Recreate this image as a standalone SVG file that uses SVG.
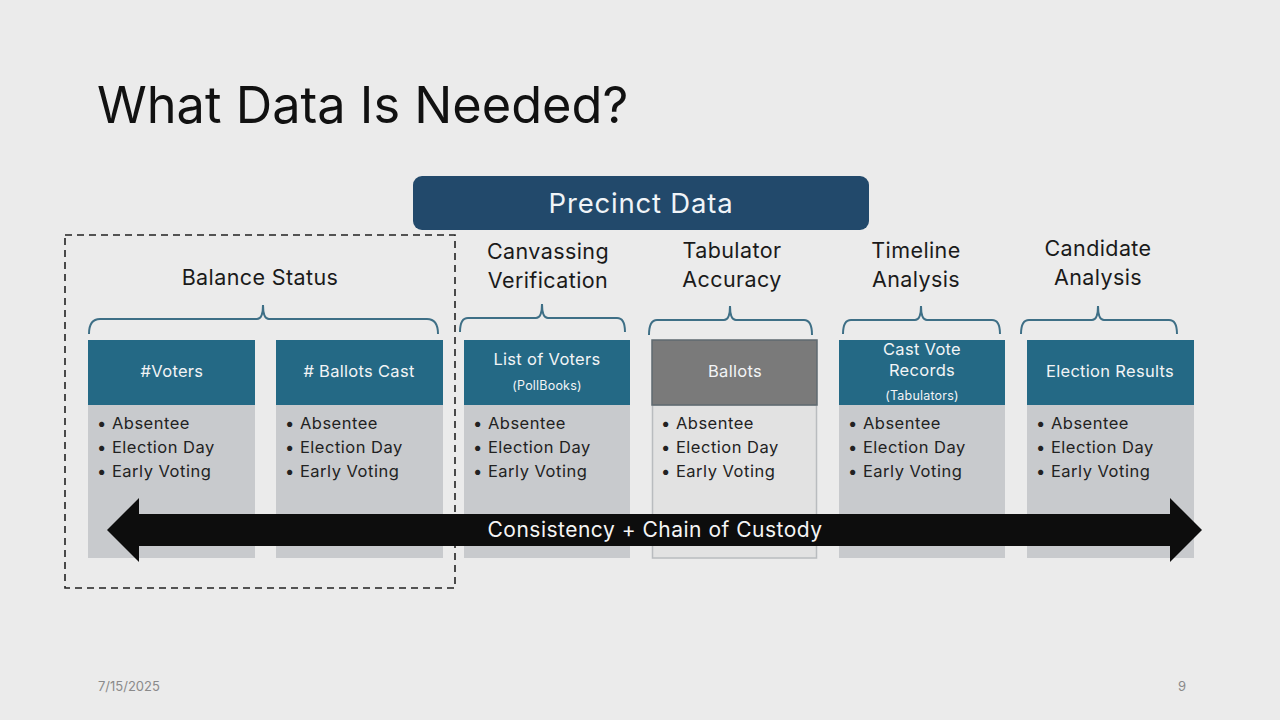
<svg xmlns="http://www.w3.org/2000/svg" width="1280" height="720" viewBox="0 0 1280 720">
<style>
text{font-family:Inter,"Open Sans","Liberation Sans",sans-serif}
.hdr{fill:#246985}
.body{fill:#c8cacd}
.ht{fill:#f2f4f6;font-size:16.5px;letter-spacing:0.3px;text-anchor:middle}
.hs{fill:#f2f4f6;font-size:12.5px;letter-spacing:0.2px;text-anchor:middle}
.bl{fill:#222;font-size:16.5px;letter-spacing:0.5px}
.lab{fill:#1a1a1a;font-size:21.5px;letter-spacing:0.4px;text-anchor:middle}
.brace{fill:none;stroke:#3e6f86;stroke-width:2}
</style>
<rect width="1280" height="720" fill="#ebebeb"/>
<text x="97" y="123" font-size="50.5" fill="#111">What Data Is Needed?</text>
<g id="precinct">
<rect x="413" y="176" width="456" height="54" rx="9" fill="#22496b"/>
<text x="641" y="213" font-size="27.5" fill="#f0f4f8" text-anchor="middle" letter-spacing="0.8">Precinct Data</text>
</g>
<g id="balance-group">
<rect x="65" y="235" width="390" height="353" fill="none" stroke="#222" stroke-width="1.6" stroke-dasharray="7,5"/>
<text class="lab" x="260" y="285">Balance Status</text>
</g>
<g id="labels">
<text class="lab" x="548" y="259">Canvassing</text><text class="lab" x="548" y="288">Verification</text>
<text class="lab" x="732" y="258">Tabulator</text><text class="lab" x="732" y="287">Accuracy</text>
<text class="lab" x="916" y="258">Timeline</text><text class="lab" x="916" y="287">Analysis</text>
<text class="lab" x="1098" y="256">Candidate</text><text class="lab" x="1098" y="285">Analysis</text>
</g>
<g id="braces">
<path class="brace" d="M89,334 Q89,319 100,319 L257,319 Q263,319 263,305 Q263,319 269,319 L427,319 Q438,319 438,334"/>
<path class="brace" d="M460,332 Q460,318 468,318 L536,318 Q542,318 542,304 Q542,318 548,318 L617,318 Q625,318 625,332"/>
<path class="brace" d="M649,335 Q649,320 657,320 L724,320 Q730,320 730,306 Q730,320 736,320 L804,320 Q812,320 812,335"/>
<path class="brace" d="M843,334 Q843,320 851,320 L915,320 Q921,320 921,306 Q921,320 927,320 L992,320 Q1000,320 1000,334"/>
<path class="brace" d="M1021,334 Q1021,320 1029,320 L1092,320 Q1098,320 1098,306 Q1098,320 1104,320 L1169,320 Q1177,320 1177,334"/>
</g>
<g id="n-voters">
<rect class="body" x="88" y="405" width="167" height="153"/>
<rect class="hdr" x="88" y="340" width="167" height="65"/>
<text class="ht" x="172" y="377">#Voters</text>
<text class="bl" x="97" y="429">• Absentee</text><text class="bl" x="97" y="453">• Election Day</text><text class="bl" x="97" y="477">• Early Voting</text>
</g>
<g id="n-ballots-cast">
<rect class="body" x="276" y="405" width="167" height="153"/>
<rect class="hdr" x="276" y="340" width="167" height="65"/>
<text class="ht" x="359" y="377"># Ballots Cast</text>
<text class="bl" x="285" y="429">• Absentee</text><text class="bl" x="285" y="453">• Election Day</text><text class="bl" x="285" y="477">• Early Voting</text>
</g>
<g id="n-list-voters">
<rect class="body" x="464" y="405" width="166" height="153"/>
<rect class="hdr" x="464" y="340" width="166" height="65"/>
<text class="ht" x="547" y="365">List of Voters</text>
<text class="hs" x="547" y="390">(PollBooks)</text>
<text class="bl" x="473" y="429">• Absentee</text><text class="bl" x="473" y="453">• Election Day</text><text class="bl" x="473" y="477">• Early Voting</text>
</g>
<g id="n-ballots">
<rect x="652.5" y="405" width="164" height="153" fill="#e2e2e2" stroke="#b9bcbf" stroke-width="1.5"/>
<rect x="652" y="340" width="165" height="65" fill="#7a7a7a" stroke="#5f6a70" stroke-width="1.5"/>
<text class="ht" x="735" y="377" fill="#e8e8e8">Ballots</text>
<text class="bl" x="661" y="429">• Absentee</text><text class="bl" x="661" y="453">• Election Day</text><text class="bl" x="661" y="477">• Early Voting</text>
</g>
<g id="n-cvr">
<rect class="body" x="839" y="405" width="166" height="153"/>
<rect class="hdr" x="839" y="340" width="166" height="65"/>
<text class="ht" x="922" y="355">Cast Vote</text>
<text class="ht" x="922" y="376">Records</text>
<text class="hs" x="922" y="400">(Tabulators)</text>
<text class="bl" x="848" y="429">• Absentee</text><text class="bl" x="848" y="453">• Election Day</text><text class="bl" x="848" y="477">• Early Voting</text>
</g>
<g id="n-results">
<rect class="body" x="1027" y="405" width="167" height="153"/>
<rect class="hdr" x="1027" y="340" width="167" height="65"/>
<text class="ht" x="1110" y="377">Election Results</text>
<text class="bl" x="1036" y="429">• Absentee</text><text class="bl" x="1036" y="453">• Election Day</text><text class="bl" x="1036" y="477">• Early Voting</text>
</g>
<g id="connectors">
<polygon points="107,530 139,498 139,514 1170,514 1170,498 1202,530 1170,562 1170,546 139,546 139,562" fill="#0d0d0d"/>
<text x="655" y="537" font-size="21" fill="#f5f5f5" text-anchor="middle" letter-spacing="0.5">Consistency + Chain of Custody</text>
</g>
<text x="98" y="691" font-size="13" fill="#8a8a8a">7/15/2025</text>
<text x="1178" y="691" font-size="13" fill="#8a8a8a">9</text>
</svg>
